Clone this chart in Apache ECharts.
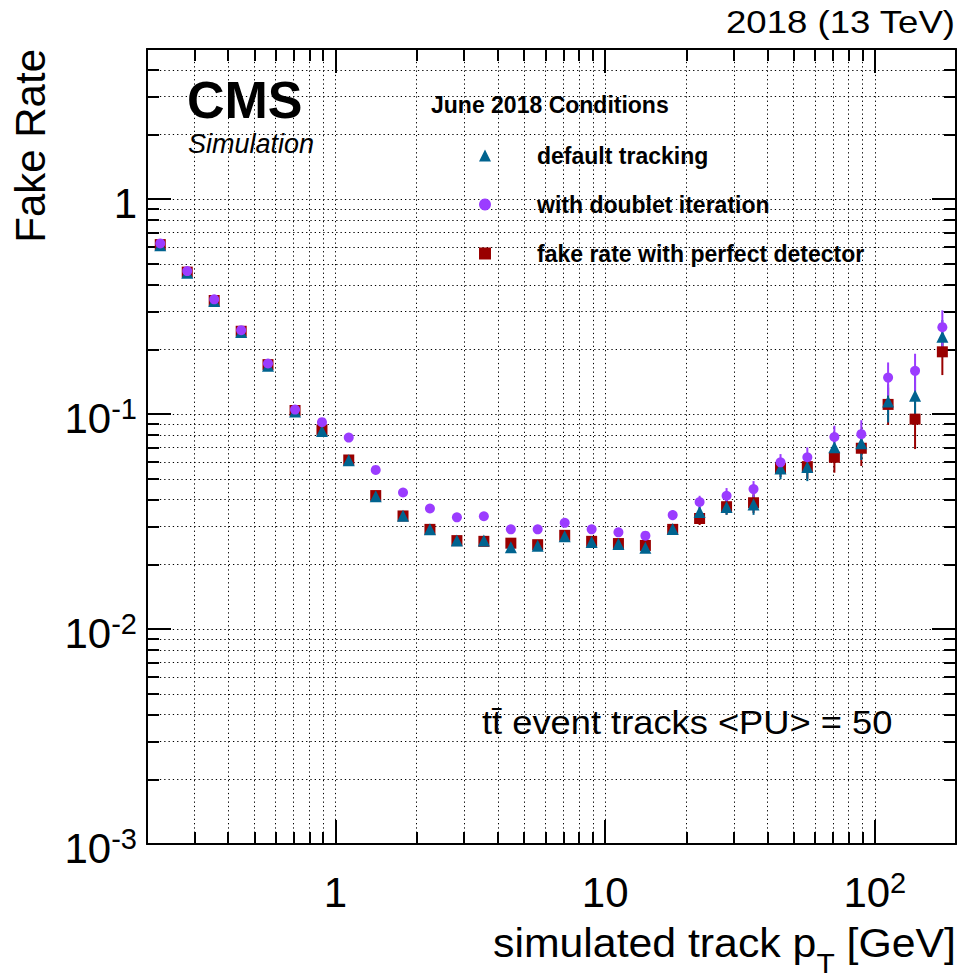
<!DOCTYPE html>
<html>
<head>
    <meta charset="utf-8">
    <title>Fake Rate vs simulated track pT</title>
    <script src="https://cdn.jsdelivr.net/npm/echarts@6/dist/echarts.min.js"></script>
    <style>
        body { margin: 0; background: #fff; }
    </style>
</head>
<body>
    <div id="main" style="width: 961px;height:978px;"></div>
    <script type="text/javascript">
        // bin centres in pT [GeV] (0.1 decade bins)
        const ptBins = [0.224, 0.282, 0.355, 0.447, 0.562, 0.708, 0.891, 1.12, 1.41, 1.78,
            2.24, 2.82, 3.55, 4.47, 5.62, 7.08, 8.91, 11.2, 14.1, 17.8,
            22.4, 28.2, 35.5, 44.7, 56.2, 70.8, 89.1, 112, 141, 178];

        // default tracking (triangles)
        const rateDefault = [0.61, 0.455, 0.336, 0.241, 0.168, 0.103, 0.0835, 0.061, 0.0415, 0.0337,
            0.0291, 0.0258, 0.0258, 0.024, 0.0244, 0.027, 0.0254, 0.0249, 0.0239, 0.0292,
            0.0351, 0.037, 0.038, 0.0558, 0.0568, 0.0701, 0.0732, 0.1145, 0.1217, 0.229];
        const errDefault = [0.006, 0.005, 0.004, 0.003, 0.002, 0.0015, 0.0012, 0.001, 0.0008, 0.0007,
            0.0006, 0.0006, 0.0006, 0.0006, 0.0006, 0.0008, 0.0008, 0.001, 0.0011, 0.0015,
            0.0022, 0.003, 0.004, 0.006, 0.008, 0.009, 0.012, 0.023, 0.03, 0.045];

        // with doublet iteration (circles)
        const rateDoublet = [0.623, 0.463, 0.342, 0.246, 0.172, 0.105, 0.0918, 0.0778, 0.055, 0.0432,
            0.0364, 0.0331, 0.0335, 0.0291, 0.0291, 0.0312, 0.0291, 0.0282, 0.0272, 0.0339,
            0.039, 0.0417, 0.0448, 0.0597, 0.063, 0.0783, 0.0807, 0.148, 0.159, 0.254];
        const errDoublet = [0.006, 0.005, 0.004, 0.003, 0.002, 0.0015, 0.0013, 0.0012, 0.001, 0.0008,
            0.0007, 0.0007, 0.0007, 0.0007, 0.0007, 0.0009, 0.0009, 0.001, 0.0012, 0.0018,
            0.0027, 0.0036, 0.004, 0.0055, 0.007, 0.01, 0.013, 0.026, 0.032, 0.05];

        // fake rate with perfect detector (squares)
        const ratePerfect = [0.615, 0.458, 0.338, 0.243, 0.17, 0.104, 0.0845, 0.0612, 0.0418, 0.0336,
            0.0291, 0.0258, 0.0256, 0.0251, 0.0247, 0.0273, 0.0256, 0.025, 0.0245, 0.0291,
            0.0327, 0.0371, 0.0387, 0.056, 0.057, 0.063, 0.0694, 0.111, 0.0948, 0.195];
        const errPerfect = [0.006, 0.005, 0.004, 0.003, 0.002, 0.0015, 0.0012, 0.001, 0.0008, 0.0007,
            0.0006, 0.0006, 0.0006, 0.0006, 0.0006, 0.0008, 0.0008, 0.001, 0.0011, 0.0015,
            0.0022, 0.003, 0.004, 0.005, 0.007, 0.0096, 0.012, 0.022, 0.026, 0.043];

        const seriesNames = ['default tracking', 'with doublet iteration', 'fake rate with perfect detector'];

        // tick labels: value -> [base, exponent]
        const xTickValues = [1, 10, 100];
        const xTickTexts = [['1', ''], ['10', ''], ['10', '2']];
        const yTickValues = [1, 0.1, 0.01, 0.001];
        const yTickTexts = [['1', ''], ['10', '-1'], ['10', '-2'], ['10', '-3']];

        const FONT = '"Liberation Sans", Arial, Helvetica, sans-serif';
        const C_BLUE = '#00638f';
        const C_PURPLE = '#9b3cff';
        const C_RED = '#990000';

        function near(a, b) {
            return Math.abs(Math.log10(a) - Math.log10(b)) < 1e-6;
        }

        function labelFor(values, texts) {
            return function (v) {
                for (let i = 0; i < values.length; i++) {
                    if (near(v, values[i])) {
                        const t = texts[i];
                        return t[1] ? '{b|' + t[0] + '}{s|' + t[1] + '}' : '{b|' + t[0] + '}';
                    }
                }
                return '';
            };
        }

        const labelRich = {
            b: { fontSize: 42, lineHeight: 48, fontFamily: FONT, color: '#000' },
            s: { fontSize: 29, lineHeight: 20, verticalAlign: 'top', fontFamily: FONT, color: '#000' }
        };

        const gridLine = { color: '#000', width: 1, type: [1.3, 3] };

        function makeAxis(kind, pos, main) {
            const ax = {
                type: 'log',
                logBase: 10,
                position: pos,
                axisLine: { show: true, onZero: false, lineStyle: { color: '#000', width: 2 } },
                axisTick: { show: true, inside: true, length: 24, lineStyle: { color: '#000', width: 2 } },
                minorTick: { show: true, splitNumber: 9, length: 12, lineStyle: { color: '#000', width: 2 } },
                splitLine: { show: main, lineStyle: gridLine },
                minorSplitLine: { show: main, lineStyle: gridLine },
                axisLabel: { show: false }
            };
            if (kind === 'x') {
                ax.min = 0.2;
                ax.max = 200;
                if (main) {
                    ax.axisLabel = { show: true, margin: 24, formatter: labelFor(xTickValues, xTickTexts), rich: labelRich };
                }
            } else {
                ax.min = 0.001;
                ax.max = 5;
                if (main) {
                    ax.axisLabel = { show: true, margin: 10, padding: [8, 0, 0, 0], formatter: labelFor(yTickValues, yTickTexts), rich: labelRich };
                }
            }
            return ax;
        }

        function points(rates) {
            return ptBins.map((x, i) => [x, rates[i]]);
        }
        function bars(rates, errs) {
            return ptBins.map((x, i) => [x, rates[i], errs[i]]);
        }

        function errorBar(color) {
            return function (params, api) {
                const x = api.value(0), y = api.value(1), e = api.value(2);
                if (!e) return null;
                const p1 = api.coord([x, y + e]);
                const p2 = api.coord([x, Math.max(y - e, 0.001)]);
                return {
                    type: 'line',
                    shape: { x1: p1[0], y1: p1[1], x2: p2[0], y2: p2[1] },
                    style: { stroke: color, lineWidth: 2 }
                };
            };
        }

        function errSeries(name, rates, errs, color) {
            return {
                name: name + ' (err)',
                type: 'custom',
                silent: true,
                clip: true,
                encode: { x: 0, y: 1 },
                renderItem: errorBar(color),
                data: bars(rates, errs)
            };
        }

        const myChart = echarts.init(document.getElementById('main'), null, { renderer: 'svg' });

        const option = {
            backgroundColor: '#fff',
            animation: false,
            grid: { left: 147, right: 5, top: 49, bottom: 134, containLabel: false },
            xAxis: [makeAxis('x', 'bottom', true), makeAxis('x', 'top', false)],
            yAxis: [makeAxis('y', 'left', true), makeAxis('y', 'right', false)],
            legend: {
                orient: 'vertical',
                left: 474,
                top: 138,
                itemWidth: 12,
                itemHeight: 12,
                itemGap: 24,
                selectedMode: false,
                data: seriesNames,
                textStyle: {
                    fontFamily: FONT, fontSize: 23, fontWeight: 'bold', color: '#000',
                    lineHeight: 25, padding: [0, 0, 0, 41]
                }
            },
            series: [
                errSeries(seriesNames[2], ratePerfect, errPerfect, C_RED),
                {
                    name: seriesNames[2], type: 'scatter', symbol: 'rect', symbolSize: 11,
                    itemStyle: { color: C_RED, opacity: 1 }, data: points(ratePerfect)
                },
                errSeries(seriesNames[0], rateDefault, errDefault, C_BLUE),
                {
                    name: seriesNames[0], type: 'scatter', symbol: 'triangle', symbolSize: 12,
                    itemStyle: { color: C_BLUE, opacity: 1 }, data: points(rateDefault)
                },
                errSeries(seriesNames[1], rateDoublet, errDoublet, C_PURPLE),
                {
                    name: seriesNames[1], type: 'scatter', symbol: 'circle', symbolSize: 10,
                    itemStyle: { color: C_PURPLE, opacity: 1 }, data: points(rateDoublet)
                }
            ],
            graphic: [
                {
                    type: 'text', x: 955, y: 22, scaleX: 1.18,
                    style: { text: '2018 (13 TeV)', font: '31px ' + FONT, fill: '#000', align: 'right', verticalAlign: 'middle' }
                },
                {
                    type: 'text', x: 187, y: 100,
                    style: { text: 'CMS', font: 'bold 52px ' + FONT, fill: '#000', align: 'left', verticalAlign: 'middle' }
                },
                {
                    type: 'text', x: 188, y: 144,
                    style: { text: 'Simulation', font: 'italic 27px ' + FONT, fill: '#000', align: 'left', verticalAlign: 'middle' }
                },
                {
                    type: 'text', x: 431, y: 105,
                    style: { text: 'June 2018 Conditions', font: 'bold 23px ' + FONT, fill: '#000', align: 'left', verticalAlign: 'middle' }
                },
                {
                    type: 'text', x: 482, y: 723, scaleX: 1.1,
                    style: { text: 'tt\u0304 event tracks <PU> = 50', font: '33px ' + FONT, fill: '#000', align: 'left', verticalAlign: 'middle' }
                },
                {
                    type: 'text', x: 30, y: 49, rotation: Math.PI / 2,
                    style: { text: 'Fake Rate', font: '42px ' + FONT, fill: '#000', align: 'right', verticalAlign: 'middle' }
                },
                {
                    type: 'text', x: 956, y: 923, scaleX: 1.07,
                    style: {
                        text: '{n|simulated track p}{t|T}{n| [GeV]}',
                        align: 'right', verticalAlign: 'top', fill: '#000',
                        rich: {
                            n: { fontSize: 40, fontFamily: FONT, lineHeight: 40, verticalAlign: 'top', color: '#000' },
                            t: { fontSize: 28, fontFamily: FONT, lineHeight: 80, color: '#000' }
                        }
                    }
                }
            ]
        };

        myChart.setOption(option);
    </script>
</body>
</html>
